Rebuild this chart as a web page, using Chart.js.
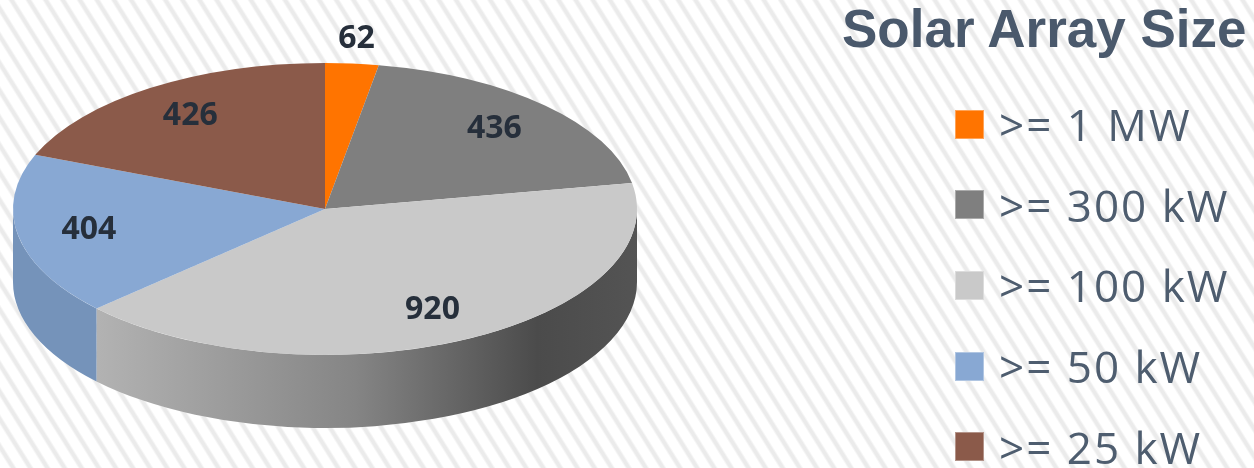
<!DOCTYPE html>
<html>
<head>
<meta charset="utf-8">
<title>Solar Array Size</title>
<script src="https://cdn.jsdelivr.net/npm/chart.js@4.4.1/dist/chart.umd.min.js"></script>
<style>
  html, body { margin: 0; padding: 0; }
  body {
    width: 1254px; height: 468px; overflow: hidden; position: relative;
    background: repeating-linear-gradient(58deg,
      #ffffff 0px, #ffffff 8px, #ebebeb 10px, #ebebeb 12.5px, #ffffff 14.5px);
  }
  #pie { position: absolute; left: 0; top: 0; }
  #title {
    position: absolute; left: 842px; top: 2px; margin: 0;
    font: bold 53px "Liberation Sans", Arial, sans-serif; line-height: 53px;
    color: #4a596c; white-space: nowrap;
  }
  #legend { position: absolute; left: 955px; top: 0; margin: 0; padding: 0; list-style: none; }
  #legend li {
    position: absolute; left: 0; height: 44px; display: flex; align-items: center;
    white-space: nowrap;
    font: 44px "Open Sans", sans-serif; line-height: 44px; letter-spacing: 2px;
    color: #4e5d6f;
  }
  #legend .box { width: 29px; height: 29px; margin-right: 15px; box-sizing: border-box;
    border: 1px solid rgba(255,255,255,0.35); }
</style>
</head>
<body>
<canvas id="pie" width="1254" height="468"></canvas>
<h1 id="title">Solar Array Size</h1>
<ul id="legend"></ul>
<script>
  // -- Data ------------------------------------------------------------
  const sizeClasses = [">= 1 MW", ">= 300 kW", ">= 100 kW", ">= 50 kW", ">= 25 kW"];
  const arrayCounts = [62, 436, 920, 404, 426];
  const sliceColors = ["#ff7400", "#7f7f7f", "#c9c9c9", "#88a8d3", "#8b5a4a"];

  // -- Layout of the tilted disc (screen pixels) -------------------------
  const DISC = { cx: 325, cy: 209, rx: 312, ry: 146, depth: 73 };
  const LEGEND_TOP = 124;   // centre of first legend row
  const LEGEND_STEP = 80.7;

  /** Side wall fill for a slice: the big light slice gets a shaded sweep. */
  function sideFill(ctx, index) {
    if (index === 2) {
      const g = ctx.createLinearGradient(70, 0, 640, 0);
      g.addColorStop(0, "#b7b7b7");
      g.addColorStop(0.5, "#858585");
      g.addColorStop(0.82, "#4b4b4b");
      g.addColorStop(1, "#545454");
      return g;
    }
    if (index === 3) return "#7593ba";
    return sliceColors[index];
  }

  // Flattens Chart.js' own pie into an ellipse and extrudes a front wall.
  const tiltedPie = {
    id: "tiltedPie",
    beforeDatasetsDraw(chart) {
      const ctx = chart.ctx;
      const arcs = chart.getDatasetMeta(0).data;
      if (!arcs.length) return;
      const { cx, cy, rx, ry, depth } = DISC;

      // front wall: only the part between 0 and PI faces the viewer
      arcs.forEach((arc, i) => {
        const a0 = Math.max(arc.startAngle, 0);
        const a1 = Math.min(arc.endAngle, Math.PI);
        if (a1 <= a0) return;
        ctx.beginPath();
        ctx.ellipse(cx, cy, rx, ry, 0, a0, a1);
        ctx.ellipse(cx, cy + depth, rx, ry, 0, a1, a0, true);
        ctx.closePath();
        ctx.fillStyle = sideFill(ctx, i);
        ctx.fill();
      });

      const ref = arcs[0];
      ctx.save();
      ctx.translate(cx, cy);
      ctx.scale(rx / ref.outerRadius, ry / ref.outerRadius);
      ctx.translate(-ref.x, -ref.y);
    },
    afterDatasetsDraw(chart) {
      const ctx = chart.ctx;
      ctx.restore();
      const arcs = chart.getDatasetMeta(0).data;
      const values = chart.data.datasets[0].data;
      const total = values.reduce((a, b) => a + b, 0);
      const { cx, cy, rx, ry } = DISC;

      ctx.save();
      ctx.font = "700 32px 'Open Sans', sans-serif";
      ctx.fillStyle = "#262f3b";
      ctx.textAlign = "center";
      ctx.textBaseline = "middle";
      arcs.forEach((arc, i) => {
        const mid = (arc.startAngle + arc.endAngle) / 2;
        const r = values[i] / total < 0.05 ? 1.17 : 0.77;
        const x = cx + rx * r * Math.cos(mid);
        const y = cy + ry * r * Math.sin(mid);
        ctx.fillText(String(values[i]), x, y);
      });
      ctx.restore();
    },
  };

  const chart = new Chart(document.getElementById("pie"), {
    type: "pie",
    data: {
      labels: sizeClasses,
      datasets: [{
        data: arrayCounts,
        backgroundColor: sliceColors,
        borderWidth: 0,
        clip: false,
      }],
    },
    options: {
      responsive: false,
      animation: false,
      devicePixelRatio: 1,
      events: [],
      plugins: {
        legend: { display: false },
        tooltip: { enabled: false },
      },
    },
    plugins: [tiltedPie],
  });

  // -- HTML legend built from the chart's own legend items ---------------
  const legendEl = document.getElementById("legend");
  chart.options.plugins.legend.labels.generateLabels(chart).forEach((item, i) => {
    const li = document.createElement("li");
    li.style.top = (LEGEND_TOP + i * LEGEND_STEP - 22) + "px";
    const box = document.createElement("span");
    box.className = "box";
    box.style.background = item.fillStyle;
    li.appendChild(box);
    li.appendChild(document.createTextNode(item.text));
    legendEl.appendChild(li);
  });
</script>
</body>
</html>
